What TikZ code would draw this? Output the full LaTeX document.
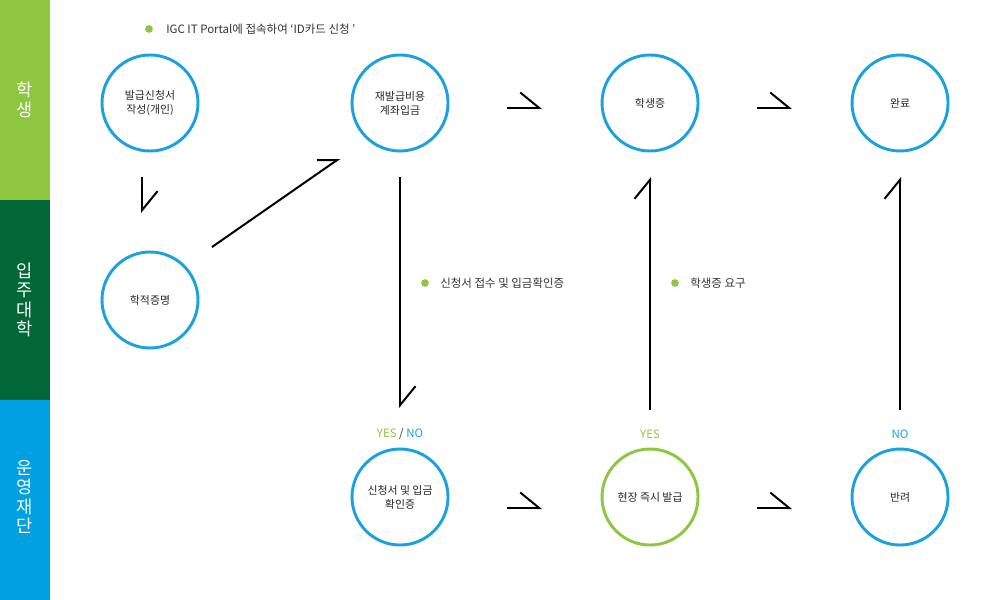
\documentclass[tikz,border=0pt]{standalone}
\usepackage{fontspec}
\setmainfont{Noto Sans CJK KR}
\usetikzlibrary{positioning, arrows.meta}
\definecolor{lgreen}{HTML}{8DC63F}
\definecolor{dgreen}{HTML}{006837}
\definecolor{sblue}{HTML}{00A0E3}
\definecolor{cblue}{HTML}{1AA1E0}
\definecolor{txt}{HTML}{333333}

\begin{document}
\begin{tikzpicture}[x=0.03cm, y=-0.03cm, node distance=4.62cm,
  stage/.style={draw=cblue, line width=2.5pt, circle, minimum size=2.88cm, inner sep=0pt, outer sep=0pt, align=center, text=black!85, font=\fontsize{9.3}{12}\selectfont},
  bandtext/.style={text=white, align=center, font=\fontsize{15}{16.6}\selectfont},
  half/.style={line width=1.7pt, -{Straight Barb[left, length=0.57cm, width=0.93cm]}},
  halfsm/.style={line width=1.7pt, -{Straight Barb[left, length=0.49cm, width=0.68cm]}},
  dot/.style={circle, fill=lgreen, minimum size=0.23cm, inner sep=0pt},
  note/.style={inner sep=0pt, text=txt, font=\fontsize{9.8}{11}\selectfont}]
  \useasboundingbox (0,0) rectangle (1000,600);

  % bands
  \fill[lgreen] (0,0) rectangle (50,200);
  \fill[dgreen] (0,200) rectangle (50,400);
  \fill[sblue] (0,400) rectangle (50,600);
  \node[bandtext] (student) at (25,100) {학\\생};
  \node[bandtext] (univ) at (25,300) {입\\주\\대\\학};
  \node[bandtext] (found) at (25,497) {운\\영\\재\\단};

  % stages
  \node[stage] (apply) at (150,103) {발급신청서\\작성(개인)};
  \node[stage, right=of apply] (pay) {재발급비용\\계좌입금};
  \node[stage, right=of pay] (card) {학생증};
  \node[stage, right=of card] (done) {완료};
  \node[stage, below=3.03cm of apply] (cert) {학적증명};
  \node[stage, below=8.94cm of pay] (check) {신청서 및 입금\\확인증};
  \node[stage, draw=lgreen, right=of check] (issue) {현장 즉시 발급};
  \node[stage, right=of issue] (reject) {반려};

  % notes
  \node[dot] (d1) at (149,29) {};
  \node[note, right=0.39cm of d1] (n1) {IGC IT Portal에 접속하여 ‘ID카드 신청 ’};
  \node[dot] (d2) at (425,283) {};
  \node[note, right=0.33cm of d2] (n2) {신청서 접수 및 입금확인증};
  \node[dot] (d3) at (675,283) {};
  \node[note, right=0.33cm of d3] (n3) {학생증 요구};
  \node[note] (yn) at (400,434) {\textcolor{lgreen}{YES} / \textcolor{cblue}{NO}};
  \node[note, text=lgreen] (yes) at (650,434) {YES};
  \node[note, text=cblue] (no) at (900,434) {NO};

  % arrows
  \draw[half, shorten <=0.78cm, shorten >=1.17cm] ([xshift=-0.24cm]apply.south) -- ([xshift=-0.24cm]cert.north);
  \draw[halfsm, shorten <=2.43cm, shorten >=2.43cm] ([shift={(-4.6,-6.7)}]cert.center) -- ([shift={(6.2,9)}]pay.center);
  \draw[half, shorten <=1.77cm, shorten >=1.8cm] ([yshift=-0.15cm]pay.east) -- ([yshift=-0.15cm]card.west);
  \draw[half, shorten <=1.77cm, shorten >=1.8cm] ([yshift=-0.15cm]card.east) -- ([yshift=-0.15cm]done.west);
  \draw[half, shorten <=0.78cm, shorten >=1.23cm] (pay.south) -- (check.north);
  \draw[half, shorten <=1.77cm, shorten >=1.8cm] ([yshift=-0.33cm]check.east) -- ([yshift=-0.33cm]issue.west);
  \draw[half, shorten <=1.77cm, shorten >=1.8cm] ([yshift=-0.33cm]issue.east) -- ([yshift=-0.33cm]reject.west);
  \draw[half, shorten <=1.17cm, shorten >=0.78cm] (issue.north) -- (card.south);
  \draw[half, shorten <=1.17cm, shorten >=0.78cm] (reject.north) -- (done.south);
\end{tikzpicture}
\end{document}
